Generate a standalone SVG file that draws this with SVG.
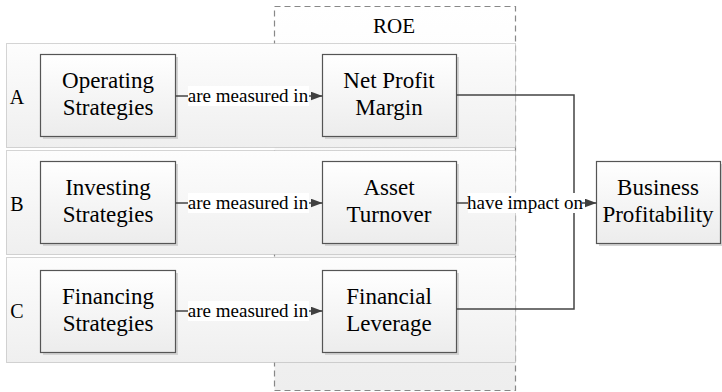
<svg xmlns="http://www.w3.org/2000/svg" width="722" height="392" viewBox="0 0 722 392">
<defs>
<linearGradient id="boxg" x1="0" y1="0" x2="0" y2="1"><stop offset="0" stop-color="#ffffff"/><stop offset="1" stop-color="#ececec"/></linearGradient>
<linearGradient id="laneg" x1="0" y1="0" x2="0" y2="1"><stop offset="0" stop-color="#fdfdfd"/><stop offset="1" stop-color="#efefef"/></linearGradient>
<linearGradient id="roeg" x1="0" y1="0" x2="0" y2="1"><stop offset="0" stop-color="#ffffff"/><stop offset="1" stop-color="#eeeeee"/></linearGradient>
<marker id="arr" viewBox="0 0 12 9" refX="12" refY="4.5" markerWidth="12" markerHeight="9" markerUnits="userSpaceOnUse" orient="auto"><path d="M0,0 L12,4.5 L0,9 Z" fill="#404040"/></marker>
</defs>
<style>
.lane{fill:url(#laneg);stroke:#aaa;stroke-width:1;stroke-dasharray:1 1}
.box{fill:url(#boxg);stroke:#555;stroke-width:1.2}
.shadow{fill:#d4d4d4}
.conn{fill:none;stroke:#444;stroke-width:1.5}
.lt{fill:#fff}
</style>
<g id="roe">
<rect x="274.5" y="6.5" width="241" height="384" fill="url(#roeg)" stroke="#888" stroke-width="1.2" stroke-dasharray="6 4"/>
<text x="394" y="33" font-family="Times New Roman, Liberation Serif, serif" font-size="21" text-anchor="middle">ROE</text>
</g>
<g id="lanes">
<g id="laneA"><rect class="lane" x="6.5" y="43.5" width="509" height="104"/><text x="17" y="104" font-family="Times New Roman, Liberation Serif, serif" font-size="20" text-anchor="middle">A</text></g>
<g id="laneB"><rect class="lane" x="6.5" y="150.5" width="509" height="104"/><text x="17" y="211" font-family="Times New Roman, Liberation Serif, serif" font-size="20" text-anchor="middle">B</text></g>
<g id="laneC"><rect class="lane" x="6.5" y="257.5" width="509" height="105"/><text x="17" y="318" font-family="Times New Roman, Liberation Serif, serif" font-size="20" text-anchor="middle">C</text></g>
</g>
<g id="operating"><rect class="shadow" x="43" y="57" width="135" height="82"/><rect class="box" x="40.5" y="54.5" width="135" height="82"/><text x="108" y="88" font-family="Times New Roman, Liberation Serif, serif" font-size="23" text-anchor="middle">Operating</text><text x="108" y="115" font-family="Times New Roman, Liberation Serif, serif" font-size="23" text-anchor="middle">Strategies</text></g>
<g id="investing"><rect class="shadow" x="43" y="164" width="135" height="82"/><rect class="box" x="40.5" y="161.5" width="135" height="82"/><text x="108" y="195" font-family="Times New Roman, Liberation Serif, serif" font-size="23" text-anchor="middle">Investing</text><text x="108" y="222" font-family="Times New Roman, Liberation Serif, serif" font-size="23" text-anchor="middle">Strategies</text></g>
<g id="financing"><rect class="shadow" x="43" y="273" width="135" height="82"/><rect class="box" x="40.5" y="270.5" width="135" height="82"/><text x="108" y="304" font-family="Times New Roman, Liberation Serif, serif" font-size="23" text-anchor="middle">Financing</text><text x="108" y="331" font-family="Times New Roman, Liberation Serif, serif" font-size="23" text-anchor="middle">Strategies</text></g>
<g id="npm"><rect class="shadow" x="325" y="57" width="134" height="82"/><rect class="box" x="322.5" y="54.5" width="134" height="82"/><text x="389" y="88" font-family="Times New Roman, Liberation Serif, serif" font-size="23" text-anchor="middle">Net Profit</text><text x="389" y="115" font-family="Times New Roman, Liberation Serif, serif" font-size="23" text-anchor="middle">Margin</text></g>
<g id="asset"><rect class="shadow" x="325" y="164" width="134" height="82"/><rect class="box" x="322.5" y="161.5" width="134" height="82"/><text x="389" y="195" font-family="Times New Roman, Liberation Serif, serif" font-size="23" text-anchor="middle">Asset</text><text x="389" y="222" font-family="Times New Roman, Liberation Serif, serif" font-size="23" text-anchor="middle">Turnover</text></g>
<g id="leverage"><rect class="shadow" x="325" y="273" width="134" height="82"/><rect class="box" x="322.5" y="270.5" width="134" height="82"/><text x="389" y="304" font-family="Times New Roman, Liberation Serif, serif" font-size="23" text-anchor="middle">Financial</text><text x="389" y="331" font-family="Times New Roman, Liberation Serif, serif" font-size="23" text-anchor="middle">Leverage</text></g>
<g id="business"><rect class="shadow" x="599" y="164" width="124" height="82"/><rect class="box" x="596.5" y="161.5" width="124" height="82"/><text x="658" y="195" font-family="Times New Roman, Liberation Serif, serif" font-size="23" text-anchor="middle">Business</text><text x="658" y="222" font-family="Times New Roman, Liberation Serif, serif" font-size="23" text-anchor="middle">Profitability</text></g>
<g id="connectors">
<path class="conn" d="M175.5,96 L322.5,96" marker-end="url(#arr)"/>
<path class="conn" d="M175.5,203 L322.5,203" marker-end="url(#arr)"/>
<path class="conn" d="M175.5,311 L322.5,311" marker-end="url(#arr)"/>
<path class="conn" d="M456.5,95 L574,95 L574,203"/>
<path class="conn" d="M456.5,309 L574,309 L574,203"/>
<path class="conn" d="M456.5,203 L596.5,203" marker-end="url(#arr)"/>
<rect class="lt" x="188" y="86" width="121" height="20"/>
<text x="248" y="102" font-family="Times New Roman, Liberation Serif, serif" font-size="19" text-anchor="middle">are measured in</text>
<rect class="lt" x="188" y="193" width="121" height="20"/>
<text x="248" y="209" font-family="Times New Roman, Liberation Serif, serif" font-size="19" text-anchor="middle">are measured in</text>
<rect class="lt" x="188" y="301" width="121" height="20"/>
<text x="248" y="317" font-family="Times New Roman, Liberation Serif, serif" font-size="19" text-anchor="middle">are measured in</text>
<rect class="lt" x="468" y="193" width="114" height="20"/>
<text x="525" y="209" font-family="Times New Roman, Liberation Serif, serif" font-size="19" text-anchor="middle">have impact on</text>
</g>
</svg>
